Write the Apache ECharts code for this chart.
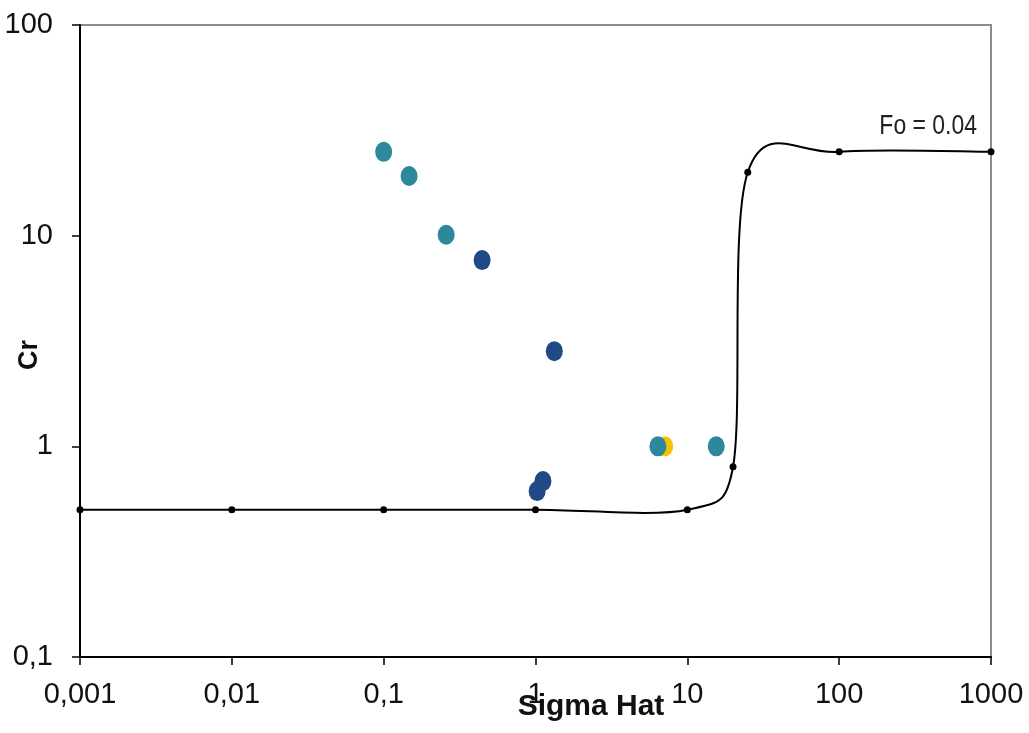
<!DOCTYPE html>
<html>
<head>
<meta charset="utf-8">
<script src="https://cdn.jsdelivr.net/npm/echarts@6/dist/echarts.min.js"></script>
<style>
html,body{margin:0;padding:0;background:#fff;}
#chart{width:1029px;height:733px;}
</style>
</head>
<body>
<div id="chart"></div>
<script>
// ---- data ----
const xTickLabels = ['0,001', '0,01', '0,1', '1', '10', '100', '1000'];
const yTickLabels = ['0,1', '1', '10', '100'];

const curveX = [0.001, 0.01, 0.1, 1, 10, 20, 25, 100, 1000];
const curveY = [0.5, 0.5, 0.5, 0.5, 0.5, 0.8, 20, 25, 25];

const yellowX = [7.1];
const yellowY = [1.0];

const tealX = [0.1, 0.147, 0.258, 6.4, 15.5];
const tealY = [25, 19.2, 10.1, 1.0, 1.0];

const navyX = [0.445, 1.33, 1.025, 1.12];
const navyY = [7.66, 2.83, 0.613, 0.684];

const curveLabel = 'Fo = 0.04';
const xTitle = 'Sigma Hat';
const yTitle = 'Cr';

// ---- build ----
const pairs = (xs, ys) => xs.map((x, i) => [x, ys[i]]);
const sans = "'Liberation Sans', Arial, sans-serif";
const curveData = pairs(curveX, curveY);

// Excel-like smoothed line (Catmull-Rom in pixel space, control arms limited by segment length)
function ctrl(prev, p, next, segLen, sign) {
  let vx = (next[0] - prev[0]) / 6, vy = (next[1] - prev[1]) / 6;
  const len = Math.hypot(vx, vy);
  const lim = 0.6 * segLen;
  if (len > lim && len > 0) { vx *= lim / len; vy *= lim / len; }
  return [p[0] + sign * vx, p[1] + sign * vy];
}
function renderCurve(params, api) {
  const i = params.dataIndex;
  const n = curveData.length;
  if (i >= n - 1) return null;
  const P = k => api.coord(curveData[Math.max(0, Math.min(n - 1, k))]);
  const p0 = P(i - 1), p1 = P(i), p2 = P(i + 1), p3 = P(i + 2);
  const seg = Math.hypot(p2[0] - p1[0], p2[1] - p1[1]);
  const c1 = ctrl(p0, p1, p2, seg, 1);
  const c2 = ctrl(p1, p2, p3, seg, -1);
  return {
    type: 'bezierCurve',
    shape: { x1: p1[0], y1: p1[1], x2: p2[0], y2: p2[1], cpx1: c1[0], cpy1: c1[1], cpx2: c2[0], cpy2: c2[1] },
    style: { stroke: '#000', lineWidth: 2, fill: null }
  };
}

const chart = echarts.init(document.getElementById('chart'), null, { renderer: 'canvas' });
chart.setOption({
  animation: false,
  backgroundColor: '#fff',
  grid: {
    left: 80, right: 38, top: 25, bottom: 76, show: true,
    borderColor: '#8c8c8c', borderWidth: 2, containLabel: false, outerBoundsMode: 'none'
  },
  xAxis: {
    type: 'log', logBase: 10, min: 0.001, max: 1000,
    axisLine: { show: true, onZero: false, lineStyle: { color: '#000', width: 2 } },
    axisTick: { show: true, inside: false, length: 8, lineStyle: { color: '#000', width: 1.5 } },
    minorTick: { show: false },
    splitLine: { show: false },
    axisLabel: {
      margin: 23, color: '#111', fontSize: 29, fontFamily: sans,
      formatter: v => xTickLabels[Math.round(Math.log10(v)) + 3]
    }
  },
  yAxis: {
    type: 'log', logBase: 10, min: 0.1, max: 100,
    axisLine: { show: true, onZero: false, lineStyle: { color: '#000', width: 2 } },
    axisTick: { show: true, inside: false, length: 8, lineStyle: { color: '#000', width: 1.5 } },
    minorTick: { show: false },
    splitLine: { show: false },
    axisLabel: {
      margin: 27, color: '#111', fontSize: 29, fontFamily: sans,
      formatter: v => yTickLabels[Math.round(Math.log10(v)) + 1]
    }
  },
  series: [
    {
      type: 'custom', data: curveData, renderItem: renderCurve,
      encode: { x: 0, y: 1 }, clip: false, z: 2
    },
    {
      type: 'scatter', data: curveData, symbol: 'circle', symbolSize: 7,
      itemStyle: { color: '#000', opacity: 1 }, z: 3
    },
    {
      type: 'scatter', data: pairs(yellowX, yellowY), symbol: 'circle', symbolSize: [17, 20],
      itemStyle: { color: '#F5C400', opacity: 1 }, z: 4
    },
    {
      type: 'scatter', data: pairs(tealX, tealY), symbol: 'circle', symbolSize: [17, 20],
      itemStyle: { color: '#2E889C', opacity: 1 }, z: 5
    },
    {
      type: 'scatter', data: pairs(navyX, navyY), symbol: 'circle', symbolSize: [17, 20],
      itemStyle: { color: '#1F4A85', opacity: 1 }, z: 5
    }
  ],
  graphic: [
    {
      type: 'text', x: 977, y: 126, scaleX: 0.82,
      style: { text: curveLabel, fill: '#222', font: '28px ' + sans, textAlign: 'right', textVerticalAlign: 'middle' }
    },
    {
      type: 'text', x: 591, y: 707,
      style: { text: xTitle, fill: '#111', font: 'bold 30px ' + sans, textAlign: 'center', textVerticalAlign: 'middle' }
    },
    {
      type: 'text', x: 30, y: 355, rotation: Math.PI / 2,
      style: { text: yTitle, fill: '#111', font: 'bold 27px ' + sans, textAlign: 'center', textVerticalAlign: 'middle' }
    }
  ]
});
</script>
</body>
</html>
